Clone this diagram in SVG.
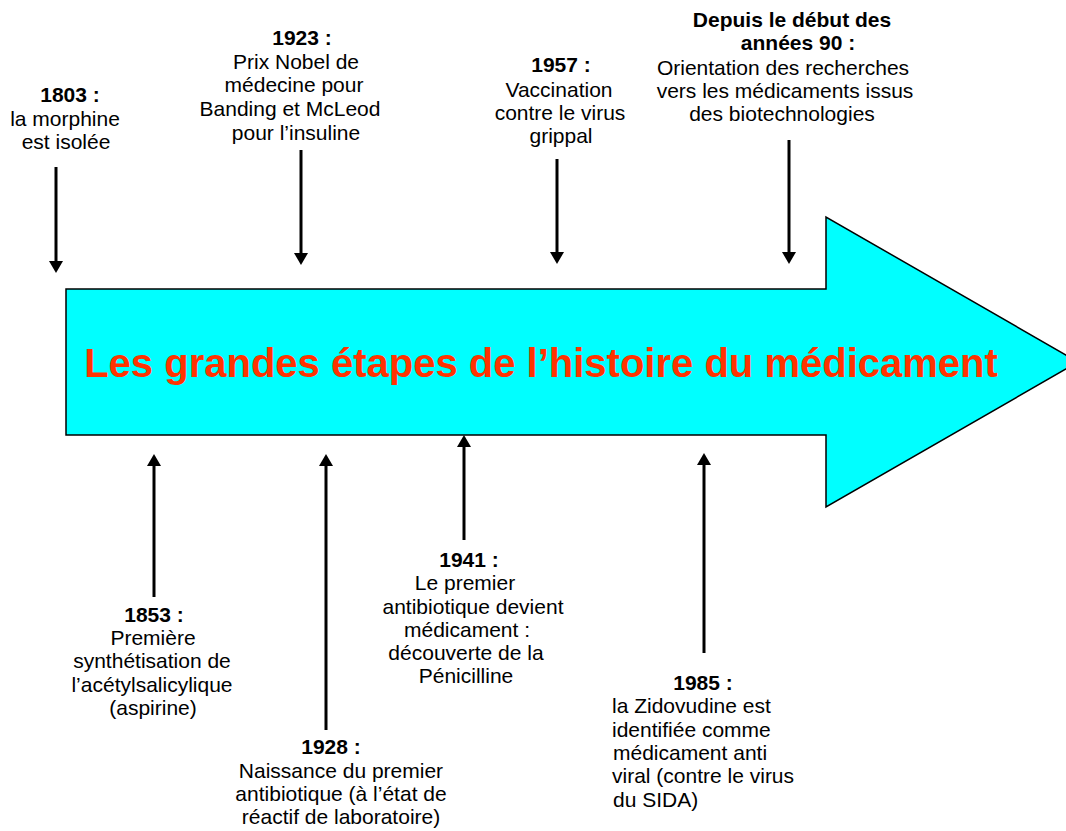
<svg xmlns="http://www.w3.org/2000/svg" width="1066" height="831" viewBox="0 0 1066 831">
<style>
  text { font-family: "Liberation Sans", Arial, sans-serif; font-size: 21px; fill: #000; }
  .c { text-anchor: middle; }
  .b { font-weight: bold; }
  .title { font-size: 40px; font-weight: bold; fill: #FF3300; text-anchor: middle; }
  .conn line { stroke: #000; stroke-width: 3; marker-end: url(#ah); }
</style>
<defs>
  <marker id="ah" viewBox="0 0 12 14" refX="4" refY="7" markerWidth="12" markerHeight="14" markerUnits="userSpaceOnUse" orient="auto">
    <path d="M0,0 L12,7 L0,14 z" fill="#000"/>
  </marker>
</defs>
<rect width="1066" height="831" fill="#fff"/>
<g id="main-arrow">
  <polygon points="66,289 826,289 826,217 1078,362 826,507 826,435 66,435" fill="#00FFFF" stroke="#000" stroke-width="1.5"/>
  <text class="title" x="541" y="377">Les grandes étapes de l’histoire du médicament</text>
</g>
<g class="conn" id="connectors">
  <line x1="56" y1="167" x2="56" y2="265"/>
  <line x1="301" y1="150" x2="301" y2="257"/>
  <line x1="557" y1="159" x2="557" y2="256"/>
  <line x1="789" y1="140" x2="789" y2="256"/>
  <line x1="154" y1="597" x2="154" y2="462"/>
  <line x1="326" y1="730" x2="326" y2="462"/>
  <line x1="464" y1="540" x2="464" y2="443"/>
  <line x1="704" y1="653" x2="704" y2="461"/>
</g>
<g id="n1803">
  <text class="c b" x="70" y="102">1803 :</text>
  <text class="c" x="65" y="126">la morphine</text>
  <text class="c" x="66" y="149">est isolée</text>
</g>
<g id="n1923">
  <text class="c b" x="302" y="45">1923 :</text>
  <text class="c" x="296" y="69">Prix Nobel de</text>
  <text class="c" x="294" y="92">médecine pour</text>
  <text class="c" x="290" y="116">Banding et McLeod</text>
  <text class="c" x="296" y="140">pour l’insuline</text>
</g>
<g id="n1957">
  <text class="c b" x="561" y="72">1957 :</text>
  <text class="c" x="559" y="97">Vaccination</text>
  <text class="c" x="560" y="120">contre le virus</text>
  <text class="c" x="561" y="143">grippal</text>
</g>
<g id="n1990">
  <text class="c b" x="792" y="27">Depuis le début des</text>
  <text class="c b" x="798" y="50">années 90 :</text>
  <text class="c" x="783" y="75">Orientation des recherches</text>
  <text class="c" x="785" y="98">vers les médicaments issus</text>
  <text class="c" x="782" y="121">des biotechnologies</text>
</g>
<g id="n1853">
  <text class="c b" x="154" y="622">1853 :</text>
  <text class="c" x="153" y="645">Première</text>
  <text class="c" x="152" y="668">synthétisation de</text>
  <text class="c" x="152" y="692">l’acétylsalicylique</text>
  <text class="c" x="153" y="715">(aspirine)</text>
</g>
<g id="n1928">
  <text class="c b" x="331" y="754">1928 :</text>
  <text class="c" x="341" y="778">Naissance du premier</text>
  <text class="c" x="341" y="801">antibiotique (à l’état de</text>
  <text class="c" x="341" y="824">réactif de laboratoire)</text>
</g>
<g id="n1941">
  <text class="c b" x="469" y="567">1941 :</text>
  <text class="c" x="465" y="590">Le premier</text>
  <text class="c" x="473" y="614">antibiotique devient</text>
  <text class="c" x="467" y="637">médicament :</text>
  <text class="c" x="466" y="660">découverte de la</text>
  <text class="c" x="466" y="683">Pénicilline</text>
</g>
<g id="n1985">
  <text class="c b" x="703" y="690">1985 :</text>
  <text x="612" y="713">la Zidovudine est</text>
  <text x="612" y="737">identifiée comme</text>
  <text x="613" y="760">médicament anti</text>
  <text x="612" y="783">viral (contre le virus</text>
  <text x="613" y="807">du SIDA)</text>
</g>
</svg>
